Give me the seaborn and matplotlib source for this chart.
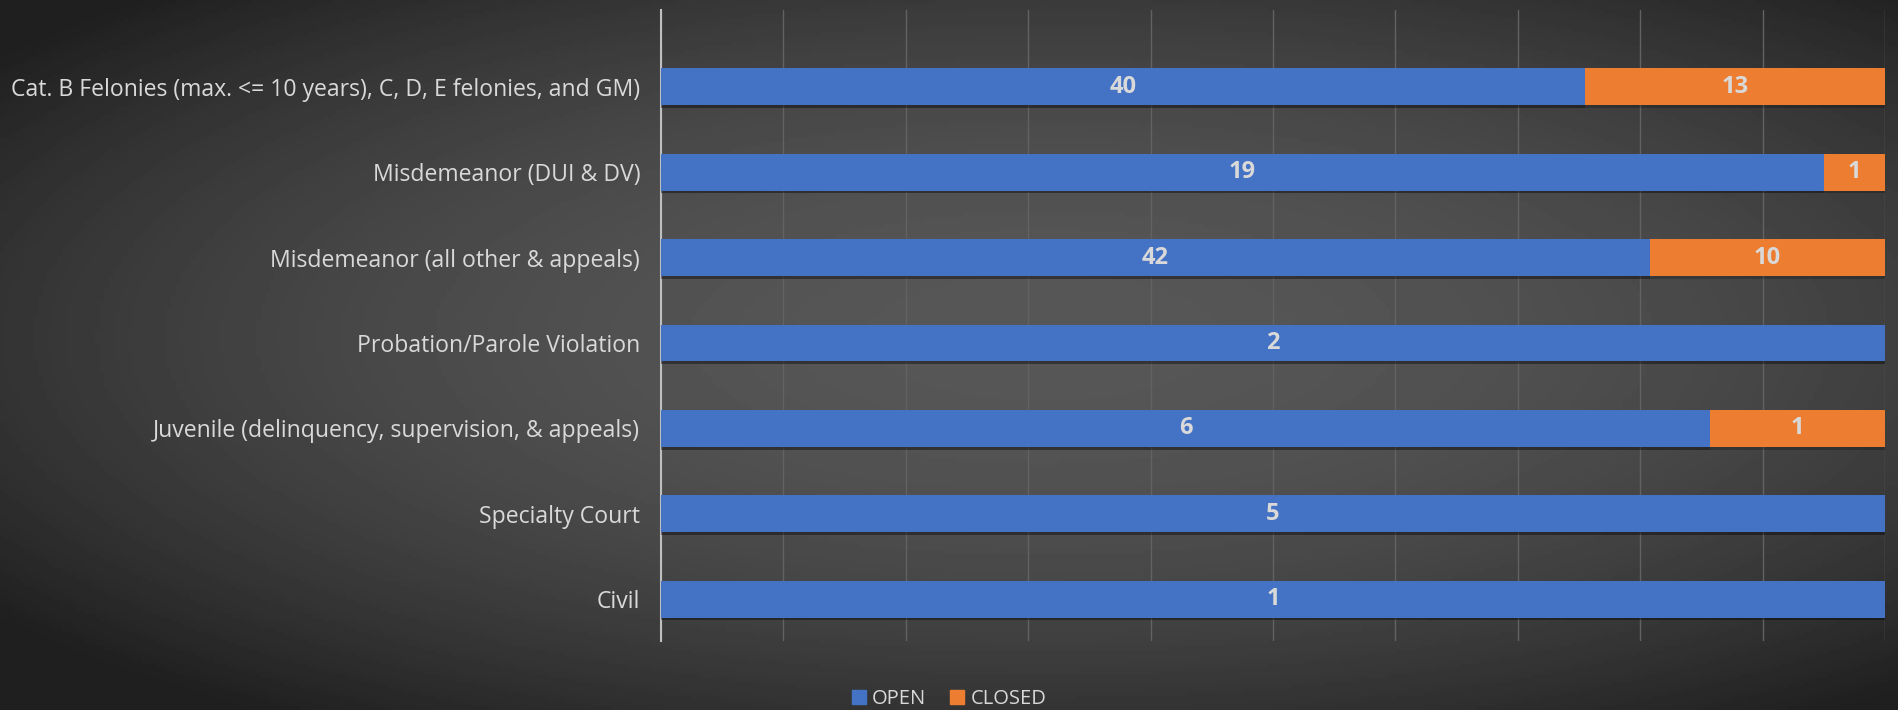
import numpy as np
import pandas as pd
import seaborn as sns
import matplotlib.pyplot as plt
import matplotlib.patheffects as pe
from matplotlib.patches import Patch

categories = [
    "Cat. B Felonies (max. <= 10 years), C, D, E felonies, and GM)",
    "Misdemeanor (DUI & DV)",
    "Misdemeanor (all other & appeals)",
    "Probation/Parole Violation",
    "Juvenile (delinquency, supervision, & appeals)",
    "Specialty Court",
    "Civil",
]
open_counts = [40, 19, 42, 2, 6, 5, 1]
closed_counts = [13, 1, 10, 0, 1, 0, 0]

BLUE = "#4472C4"
ORANGE = "#ED7D31"
TEXT = "#D9D9D9"

df = pd.DataFrame({"category": categories, "OPEN": open_counts, "CLOSED": closed_counts})
df["total"] = df["OPEN"] + df["CLOSED"]
df["open_share"] = df["OPEN"] / df["total"]
df["full"] = 1.0

sns.set_theme(style="white")
plt.rcParams["font.family"] = ["Open Sans", "DejaVu Sans"]

fig = plt.figure(figsize=(18.98, 7.10), dpi=100)

# radial grey gradient background like the Excel chart style
bg = fig.add_axes([0, 0, 1, 1], zorder=-10)
xx, yy = np.meshgrid(np.linspace(-1, 1, 400), np.linspace(-1, 1, 200))
r = np.sqrt(((xx - 0.1) / 1.15) ** 2 + ((yy + 0.05) / 1.1) ** 2)
shade = 0.34 - 0.15 * np.clip(r, 0, 1.2) ** 2
bg.imshow(shade, cmap="gray", vmin=0, vmax=1, aspect="auto", extent=[0, 1, 0, 1])
bg.axis("off")

ax = fig.add_axes([661 / 1898, 69 / 710, (1885 - 661) / 1898, 631 / 710])
ax.patch.set_alpha(0)

shadow = [pe.SimplePatchShadow(offset=(0, -2), alpha=0.22, shadow_rgbFace="black"), pe.Normal()]

sns.barplot(data=df, y="category", x="full", color=ORANGE, orient="h",
            width=0.43, saturation=1, ax=ax, zorder=3)
sns.barplot(data=df, y="category", x="open_share", color=BLUE, orient="h",
            width=0.43, saturation=1, ax=ax, zorder=4)
for p in ax.patches:
    p.set_path_effects(shadow)
    p.set_linewidth(0)

for i, row in df.iterrows():
    ax.text(row["open_share"] / 2, i, str(row["OPEN"]), ha="center", va="center",
            color=TEXT, fontsize=17, fontweight="bold", zorder=6)
    if row["CLOSED"] > 0:
        ax.text((row["open_share"] + 1) / 2, i, str(row["CLOSED"]), ha="center", va="center",
                color=TEXT, fontsize=17, fontweight="bold", zorder=6)

ax.set_xlim(0, 1)
ax.set_ylim(6.49, -0.9)
ax.set_xticks(np.linspace(0, 1, 11))
ax.set_xticklabels([])
ax.grid(axis="x", color="#626262", linewidth=1, zorder=0)
ax.set_axisbelow(True)
ax.set_xlabel("")
ax.set_ylabel("")
ax.tick_params(axis="y", length=0, pad=15, labelsize=16.6, labelcolor=TEXT)
ax.tick_params(axis="x", length=0)
for s in ["top", "right", "bottom"]:
    ax.spines[s].set_visible(False)
ax.spines["left"].set_color("#BFBFBF")
ax.spines["left"].set_linewidth(1.5)

handles = [Patch(color=BLUE, label="OPEN"), Patch(color=ORANGE, label="CLOSED")]
fig.legend(handles=handles, loc="center", bbox_to_anchor=(0.5, 0.016), ncol=2, frameon=False,
           fontsize=14.5, labelcolor=TEXT, handlelength=0.7, handleheight=0.7,
           handletextpad=0.3, columnspacing=1.2)

fig.savefig("out.png", dpi=100)
